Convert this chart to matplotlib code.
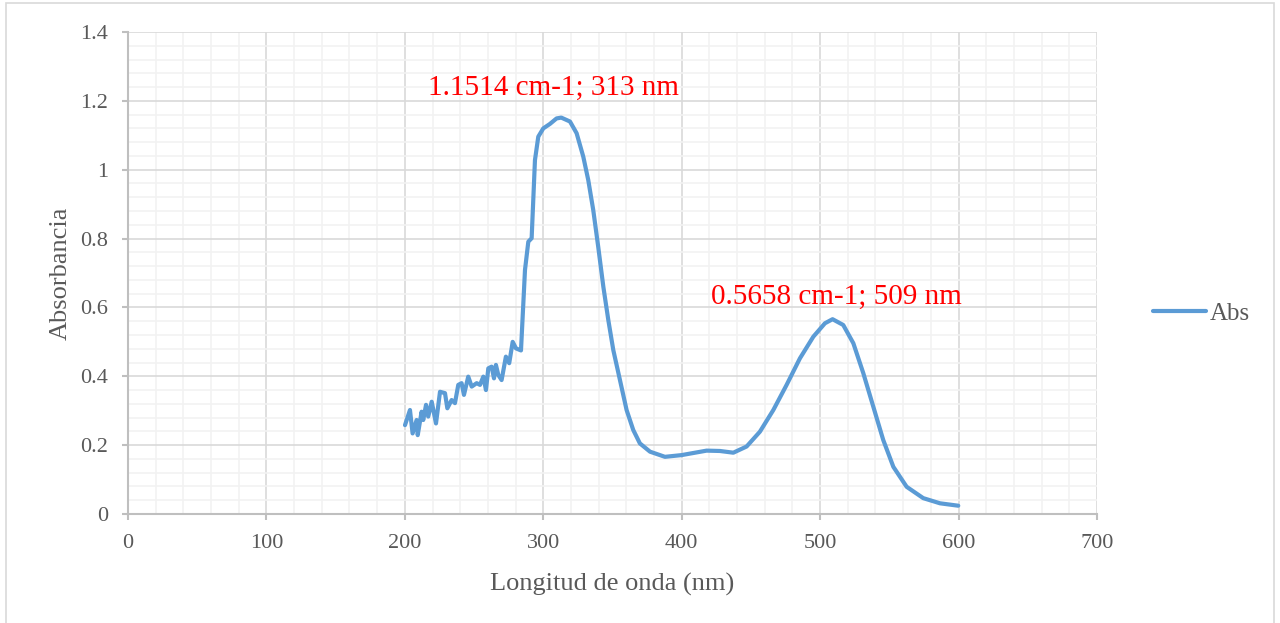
import matplotlib
matplotlib.use("Agg")
import matplotlib.pyplot as plt
from matplotlib.patches import Rectangle
from matplotlib.ticker import MultipleLocator

# Absorbance spectrum
wavelength = [200.1, 203.7, 205.6, 208.5, 209.3, 212.1, 213.3, 215.3, 216.9, 219.4,
              222.5, 225.4, 229.0, 230.7, 233.8, 236.2, 238.6, 241.0, 242.7, 245.8,
              248.3, 251.9, 254.3, 256.7, 258.6, 260.3, 262.7, 264.4, 265.8, 267.5,
              269.9, 273.0, 275.4, 277.9, 280.3, 283.9, 286.8, 289.2, 291.6, 294.0,
              296.4, 300.0, 304.8, 309.6, 313.0, 319.3, 324.1, 328.9, 332.5, 336.1,
              339.7, 343.4, 347.0, 350.6, 355.4, 360.2, 365.0, 369.8, 377.1, 387.9,
              399.9, 418.0, 427.6, 437.3, 446.9, 456.5, 466.2, 475.8, 485.4, 495.1,
              503.5, 509.0, 516.7, 524.0, 531.2, 538.4, 545.6, 552.9, 562.5, 574.5,
              586.6, 599.8]
absorbance = [0.258, 0.302, 0.234, 0.273, 0.229, 0.297, 0.273, 0.317, 0.283, 0.326,
              0.263, 0.355, 0.351, 0.307, 0.331, 0.322, 0.375, 0.380, 0.346, 0.399,
              0.370, 0.380, 0.375, 0.399, 0.360, 0.423, 0.428, 0.394, 0.433, 0.404,
              0.389, 0.457, 0.438, 0.500, 0.481, 0.475, 0.709, 0.791, 0.801, 1.028,
              1.096, 1.120, 1.133, 1.149, 1.1514, 1.140, 1.106, 1.038, 0.970, 0.883,
              0.776, 0.660, 0.563, 0.476, 0.389, 0.302, 0.244, 0.205, 0.181, 0.166,
              0.171, 0.184, 0.183, 0.178, 0.196, 0.239, 0.302, 0.375, 0.452, 0.515,
              0.554, 0.5658, 0.549, 0.496, 0.409, 0.312, 0.215, 0.137, 0.079, 0.046,
              0.031, 0.024]

peak_labels = ["1.1514 cm-1; 313 nm", "0.5658 cm-1; 509 nm"]
label_x = [307, 512]
label_y = [1.237, 0.630]

plt.rcParams['font.family'] = ['Liberation Serif', 'DejaVu Serif']

fig = plt.figure(figsize=(12.8, 6.23), dpi=100)
ax = fig.add_axes([0.1, 0.175, 0.757, 0.7736])

# light frame around the whole chart
fig.patches.append(Rectangle((6 / 1280, -0.01), 1268 / 1280, 1.005, transform=fig.transFigure,
                             fill=False, edgecolor='#d9d9d9', linewidth=1.2))

ax.plot(wavelength, absorbance, color='#5b9bd5', linewidth=3, label='Abs',
        solid_joinstyle='round', solid_capstyle='round')

ax.set_xlim(0, 700)
ax.set_ylim(0, 1.4)
ax.xaxis.set_major_locator(MultipleLocator(100))
ax.xaxis.set_minor_locator(MultipleLocator(20))
ax.yaxis.set_major_locator(MultipleLocator(0.2))
ax.yaxis.set_minor_locator(MultipleLocator(0.04))
ax.set_yticks([0, 0.2, 0.4, 0.6, 0.8, 1, 1.2, 1.4])
ax.set_yticklabels(['0', '0.2', '0.4', '0.6', '0.8', '1', '1.2', '1.4'])

ax.grid(which='major', color='#d9d9d9', linewidth=1.2)
ax.grid(which='minor', color='#f2f2f2', linewidth=1.2)
ax.set_axisbelow(True)

for side in ['top', 'right']:
    ax.spines[side].set_visible(False)
for side in ['left', 'bottom']:
    ax.spines[side].set_color('#bfbfbf')
    ax.spines[side].set_linewidth(1.5)

ax.tick_params(which='major', length=4.5, color='#bfbfbf', width=1.5,
               labelsize=16, labelcolor='#595959')
ax.tick_params(axis='y', pad=10)
ax.tick_params(axis='x', pad=10)
ax.tick_params(which='minor', length=0)

ax.set_xlabel('Longitud de onda (nm)', fontsize=19, color='#595959', labelpad=14)
ax.set_ylabel('Absorbancia', fontsize=19, color='#595959', labelpad=6)

for txt, lx, ly in zip(peak_labels, label_x, label_y):
    ax.text(lx, ly, txt, color='red', fontsize=21, ha='center', va='center')

leg = ax.legend(loc='center left', bbox_to_anchor=(1.035, 0.415), frameon=False,
                fontsize=18, handlelength=2.1, handletextpad=0.15)
for t in leg.get_texts():
    t.set_color('#595959')

fig.savefig('out.png', dpi=100)
